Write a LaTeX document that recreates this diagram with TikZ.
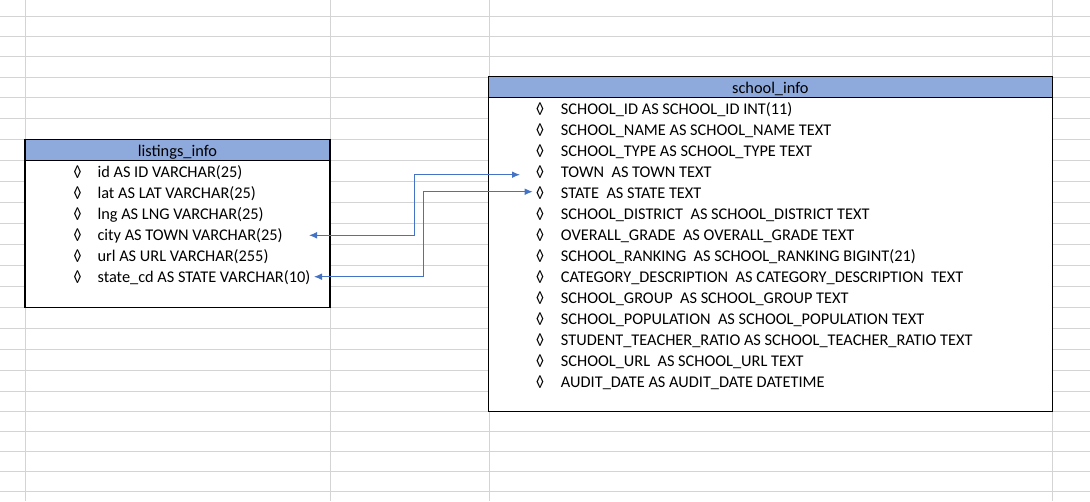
\documentclass[tikz,border=0pt]{standalone}
\usepackage{fontspec}
\setmainfont{Carlito}
\usetikzlibrary{arrows.meta}
\definecolor{grid}{HTML}{D4D4D4}
\definecolor{hdr}{HTML}{8EA9DB}
\definecolor{lnk}{HTML}{4472C4}
\tikzset{
  gridline/.style={draw=grid,line width=0.75pt},
  tablebox/.style={draw=black,line width=0.9pt,fill=white},
  headbox/.style={draw=black,line width=0.9pt,fill=hdr},
  field/.style={anchor=base west,inner sep=0pt,font=\fontsize{12.25pt}{14pt}\selectfont},
  bullet/.style={anchor=base,inner sep=0pt,font=\fontsize{12.25pt}{14pt}\selectfont},
  title/.style={anchor=base,inner sep=0pt,font=\fontsize{12.25pt}{14pt}\selectfont},
  link/.style={draw=lnk,line width=0.8pt,{Latex[length=6pt,width=5pt]}-{Latex[length=6pt,width=5pt]}}
}
\begin{document}
\begin{tikzpicture}[x=0.75pt,y=-0.75pt]
\useasboundingbox (0,0) rectangle (1090,501);
\fill[white] (0,0) rectangle (1090,501);
% spreadsheet grid
\foreach \y in {16,36.3,56.7,77,97.3,118.3,139.3,160.3,181,202,223,244,265,286,307.3,328.3,349.3,370.3,391,411.3,431.3,451.7,471.7,491.7}
  \draw[gridline] (0,\y) -- (1090,\y);
\foreach \x in {25,330,489,1052.3}
  \draw[gridline] (\x,0) -- (\x,501);
% listings_info table
\draw[tablebox] (25,139.3) rectangle (330,307.3);
\draw[headbox] (25,139.3) rectangle (330,160.3);
\node[title] (ltitle) at (177.5,156) {listings\_info};
\foreach \t [count=\i] in {id AS ID VARCHAR(25),lat AS LAT VARCHAR(25),lng AS LNG VARCHAR(25),city AS TOWN VARCHAR(25),url AS URL VARCHAR(255),state\_cd AS STATE VARCHAR(10)}{
  \pgfmathsetmacro{\yb}{160.3+21*\i-3.5}
  \node[bullet] (lb\i) at (77.5,\yb) {◊};
  \node[field] (lf\i) at (97.3,\yb) {\t};
}
% school_info table
\draw[tablebox] (488.5,76.5) rectangle (1052.3,411.3);
\draw[headbox] (488.5,76.5) rectangle (1052.3,97.3);
\node[title] (stitle) at (770.4,93) {school\_info};
\foreach \t [count=\i] in {
  SCHOOL\_ID AS SCHOOL\_ID INT(11),
  SCHOOL\_NAME AS SCHOOL\_NAME TEXT,
  SCHOOL\_TYPE AS SCHOOL\_TYPE TEXT,
  TOWN\ \ AS TOWN TEXT,
  STATE\ \ AS STATE TEXT,
  SCHOOL\_DISTRICT\ \ AS SCHOOL\_DISTRICT TEXT,
  OVERALL\_GRADE\ \ AS OVERALL\_GRADE TEXT,
  SCHOOL\_RANKING\ \ AS SCHOOL\_RANKING BIGINT(21),
  CATEGORY\_DESCRIPTION\ \ AS CATEGORY\_DESCRIPTION\ \ TEXT,
  SCHOOL\_GROUP\ \ AS SCHOOL\_GROUP TEXT,
  SCHOOL\_POPULATION\ \ AS SCHOOL\_POPULATION TEXT,
  STUDENT\_TEACHER\_RATIO AS SCHOOL\_TEACHER\_RATIO TEXT,
  SCHOOL\_URL\ \ AS SCHOOL\_URL TEXT,
  AUDIT\_DATE AS AUDIT\_DATE DATETIME}{
  \pgfmathsetmacro{\yb}{97.3+21*\i-3.5}
  \node[bullet] (sb\i) at (540,\yb) {◊};
  \node[field] (sf\i) at (560.7,\yb) {\t};
}
% connector end points
\coordinate (cityEnd) at (309,235.3);
\coordinate (townEnd) at (520,174.7);
\coordinate (stateCdEnd) at (314,276.7);
\coordinate (stateEnd) at (532.7,191.7);
\draw[link] (cityEnd) -- ++(105.3,0) |- (townEnd);
\draw[link] (stateCdEnd) -- ++(109.7,0) |- (stateEnd);
\end{tikzpicture}
\end{document}
